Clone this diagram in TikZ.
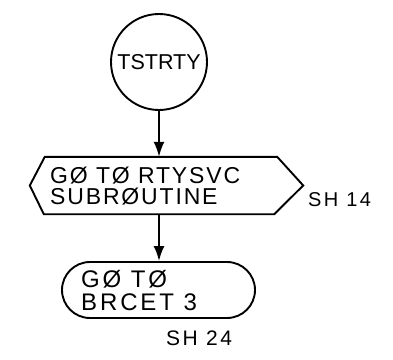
\documentclass[tikz,border=0pt]{standalone}
\usepackage{fontspec}
\setmainfont{Liberation Sans}
\newfontfamily\spacedfont[LetterSpace=8]{Liberation Sans}
\newfontfamily\widefont[LetterSpace=12]{Liberation Sans}
\usetikzlibrary{arrows.meta,calc}
\begin{document}
\begin{tikzpicture}[x=1pt,y=-1pt,
  line/.style={line width=1.9pt},
  flow/.style={line, -{Latex[length=15pt,width=11pt]}},
  lbl/.style={inner sep=0pt, align=left, font=\spacedfont\fontsize{23}{21}\selectfont},
  sheet/.style={inner sep=0pt, font=\widefont\fontsize{20}{20}\selectfont}]
\useasboundingbox (0,0) rectangle (393,359);
% start connector circle
\node[line, draw, circle, minimum size=96pt, inner sep=0pt,
  font=\fontsize{21.5}{21}\selectfont] (start) at (159,62) {TSTRTY};
% predefined process hexagon
\node[minimum width=273pt, minimum height=57pt, inner sep=0pt] (hex) at (166.5,185.5) {};
\draw[line, line join=miter] ($(hex.west)$) -- ($(hex.north west)+(15,0)$) -- ($(hex.north east)+(-26,0)$)
  -- (hex.east) -- ($(hex.south east)+(-29,0)$) -- ($(hex.south west)+(14,0)$) -- cycle;
\node[lbl, anchor=west] (hextext) at (50,186) {GØ TØ RTYSVC\\SUBRØUTINE};
\node[sheet, anchor=west] (sh14) at (308,200) {SH 14};
% terminal
\node[line, draw, rounded corners=28pt, minimum width=193pt, minimum height=56pt, inner sep=0pt] (term) at (158.5,290) {};
\node[lbl, anchor=west, font=\widefont\fontsize{24}{23}\selectfont] (termtext) at (81,291) {GØ TØ\\BRCET 3};
\node[sheet, anchor=west, font=\widefont\fontsize{21}{21}\selectfont] (sh24) at (166,338) {SH 24};
% connectors
\draw[flow] (start.south) -- (start.south |- hex.north);
\draw[flow] (start.south |- hex.south) -- (start.south |- term.north);
\end{tikzpicture}
\end{document}
